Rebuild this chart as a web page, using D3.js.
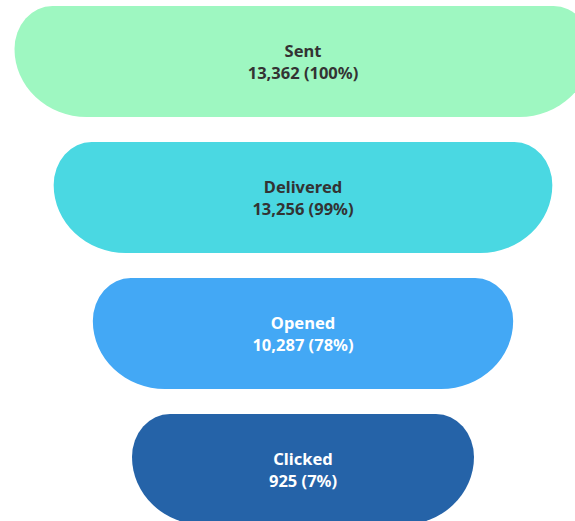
<!DOCTYPE html>
<html>
<head>
<meta charset="utf-8">
<script src="https://cdn.jsdelivr.net/npm/d3@7"></script>
<style>
  html, body { margin: 0; padding: 0; background: #fff; }
  #funnel-chart { width: 575px; height: 521px; overflow: hidden; }
</style>
</head>
<body>
<div id="funnel-chart"></div>
<script>
// stage data
const stages = ['Sent', 'Delivered', 'Opened', 'Clicked'];
const counts = [13362, 13256, 10287, 925];
const percents = [100, 99, 78, 7];

// styling per stage
const fills = ['#9ef7c1', '#4ad8e2', '#43a8f5', '#2563a8'];
const textColors = ['#333333', '#333333', '#ffffff', '#ffffff'];

const width = 575;
const height = 521;
const centerX = 303;

const svg = d3.select('#funnel-chart').append('svg')
  .attr('width', width)
  .attr('height', height);

// vertical slot for each stage (111px shapes, 25px gaps)
const y = d3.scaleBand()
  .domain(stages)
  .range([6, 6 + 136 * stages.length - 25])
  .paddingInner(25 / 136)
  .paddingOuter(0);

// width shrinks by one step per stage
const w = d3.scaleLinear()
  .domain([0, stages.length - 1])
  .range([577, 342]);

// rounded shape: smaller corners on top, larger on bottom
function shapePath(x0, y0, bw, bh) {
  const tx = 38, ty = 43, bx = 72, by = bh - ty;
  const x1 = x0 + bw, y1 = y0 + bh;
  return 'M' + (x0 + tx) + ',' + y0 +
    ' L' + (x1 - tx) + ',' + y0 +
    ' A' + tx + ',' + ty + ' 0 0 1 ' + x1 + ',' + (y0 + ty) +
    ' A' + bx + ',' + by + ' 0 0 1 ' + (x1 - bx) + ',' + y1 +
    ' L' + (x0 + bx) + ',' + y1 +
    ' A' + bx + ',' + by + ' 0 0 1 ' + x0 + ',' + (y0 + ty) +
    ' A' + tx + ',' + ty + ' 0 0 1 ' + (x0 + tx) + ',' + y0 + ' Z';
}

const data = stages.map((s, i) => ({
  stage: s, count: counts[i], percent: percents[i], index: i
}));

const groups = svg.selectAll('.stage')
  .data(data)
  .enter().append('g')
  .attr('class', 'stage');

groups.append('path')
  .attr('d', (d) => {
    const bw = w(d.index);
    return shapePath(centerX - bw / 2, y(d.stage), bw, y.bandwidth());
  })
  .style('fill', (d) => fills[d.index]);

const fmt = d3.format(',');

function addLine(yOffset, textFn) {
  groups.append('text')
    .attr('x', centerX)
    .attr('y', (d) => y(d.stage) + y.bandwidth() / 2 + yOffset)
    .attr('text-anchor', 'middle')
    .attr('dominant-baseline', 'central')
    .style('font-family', '"Noto Sans", sans-serif')
    .style('font-weight', 'bold')
    .style('font-size', '16.5px')
    .style('fill', (d) => textColors[d.index])
    .text(textFn);
}

addLine(-11, (d) => d.stage);
addLine(11, (d) => fmt(d.count) + ' (' + d.percent + '%)');
</script>
</body>
</html>
